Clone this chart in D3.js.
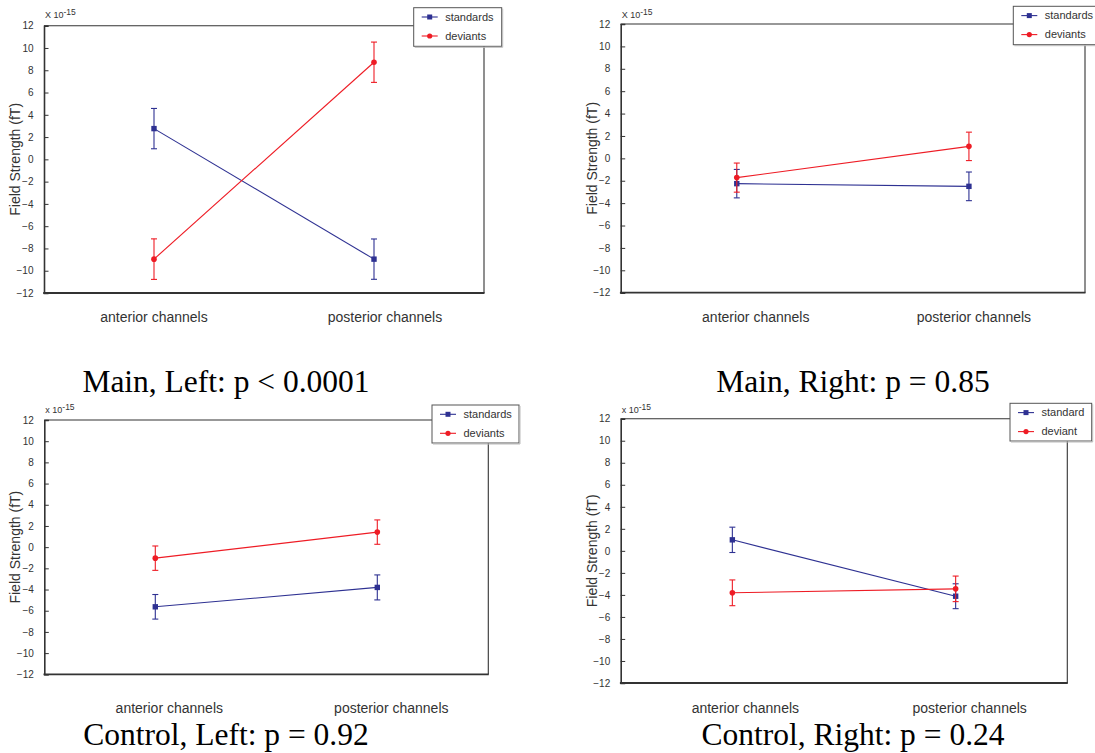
<!DOCTYPE html>
<html>
<head>
<meta charset="utf-8">
<script src="https://cdn.jsdelivr.net/npm/d3@7"></script>
<style>
  body { margin: 0; background: #fff; }
  svg { display: block; }
</style>
</head>
<body>
<svg id="chart" width="1095" height="753"></svg>
<script>
// Mean field strength (x 10^-15 T) with error bars, per channel group
const categories = ["anterior channels", "posterior channels"];
const panelTitles = [
  "Main, Left: p < 0.0001",
  "Main, Right: p = 0.85",
  "Control, Left: p = 0.92",
  "Control, Right: p = 0.24"
];
const standardLabels = ["standards", "standards", "standards", "standard"];
const deviantLabels = ["deviants", "deviants", "deviants", "deviant"];
const standardMeans  = [[2.76, -8.96], [-2.26, -2.5], [-5.63, -3.8], [1.0, -4.12]];
const standardErrors = [[1.81, 1.81], [1.27, 1.28], [1.16, 1.18], [1.15, 1.13]];
const deviantMeans   = [[-8.96, 8.72], [-1.72, 1.07], [-1.04, 1.42], [-3.81, -3.45]];
const deviantErrors  = [[1.82, 1.81], [1.3, 1.27], [1.15, 1.15], [1.17, 1.16]];
const yTicks = [-12, -10, -8, -6, -4, -2, 0, 2, 4, 6, 8, 10, 12];
const exponentPrefix = ["X", "X", "x", "x"];

// Panel geometry: plot frame [x0, y0, x1, y1], legend box, label placement
const layout = [
  { frame: [44, 25.7, 484, 293],      legend: [413.7, 7.7, 88, 38.6],  catShift: [0, 11],  catY: 322, titleX: 226, titleY: 392, expY: 18 },
  { frame: [620.7, 24, 1085, 292.7],  legend: [1013.3, 6.3, 88, 38.4], catShift: [19, 5],  catY: 322, titleX: 853, titleY: 392, expY: 18 },
  { frame: [44.3, 420, 488.3, 674.3], legend: [432, 405, 87, 38],      catShift: [14, 14], catY: 713, titleX: 226, titleY: 745, expY: 413 },
  { frame: [620.7, 418.7, 1067.3, 683], legend: [1010, 403.3, 81.7, 37.7], catShift: [13, 14], catY: 713, titleX: 853, titleY: 745, expY: 413 }
];

const BLUE = "#2e3192";
const RED = "#ee1c25";
const AXIS = "#333";
const SANS = "'Liberation Sans', Arial, Helvetica, sans-serif";
const SERIF = "'Liberation Serif', 'Times New Roman', serif";

const svg = d3.select("#chart");

panelTitles.forEach((title, i) => {
  const L = layout[i];
  const [x0, y0, x1, y1] = L.frame;
  const g = svg.append("g");

  const x = d3.scalePoint().domain(categories).range([x0, x1]).padding(0.5);
  const y = d3.scaleLinear().domain([-12, 12]).range([y1, y0]);

  // Frame: top and right edges
  g.append("line").attr("x1", x0).attr("x2", x1).attr("y1", y0).attr("y2", y0)
    .attr("stroke", AXIS).attr("stroke-width", 1.1);
  g.append("line").attr("x1", x1).attr("x2", x1).attr("y1", y0).attr("y2", y1)
    .attr("stroke", AXIS).attr("stroke-width", 1.1);

  // Left axis with inward ticks
  const yAxis = d3.axisLeft(y).tickValues(yTicks).tickSize(-4.5).tickPadding(10.5)
    .tickFormat(d3.format("d"));
  const ya = g.append("g").attr("transform", `translate(${x0},0)`).call(yAxis);
  ya.select(".domain").attr("stroke", AXIS).attr("stroke-width", 1.6);
  ya.selectAll(".tick line").attr("stroke", AXIS).attr("stroke-width", 1);
  ya.selectAll(".tick text").attr("fill", "#333").style("font-family", SANS).style("font-size", "10px");

  // Bottom edge
  g.append("line").attr("x1", x0 - 0.8).attr("x2", x1 + 0.5).attr("y1", y1).attr("y2", y1)
    .attr("stroke", AXIS).attr("stroke-width", 1.8);

  // Exponent note
  const exp = g.append("text").attr("x", x0 + 1).attr("y", L.expY)
    .attr("fill", "#333").style("font-family", SANS).style("font-size", "9px");
  exp.append("tspan").text(exponentPrefix[i] + " 10");
  exp.append("tspan").attr("dy", -3.5).style("font-size", "8.5px").text("-15");

  // Axis title
  g.append("text")
    .attr("transform", `translate(${x0 - 24},${(y0 + y1) / 2}) rotate(-90)`)
    .attr("text-anchor", "middle")
    .attr("fill", "#333").style("font-family", SANS).style("font-size", "14px")
    .text("Field Strength (fT)");

  // Category labels
  g.selectAll(".cat").data(categories).enter().append("text")
    .attr("x", (d, k) => x(d) + L.catShift[k]).attr("y", L.catY)
    .attr("text-anchor", "middle")
    .attr("fill", "#333").style("font-family", SANS).style("font-size", "14px")
    .text(d => d);

  // Series
  const series = [
    { means: standardMeans[i], errs: standardErrors[i], color: BLUE, marker: "square", label: standardLabels[i] },
    { means: deviantMeans[i],  errs: deviantErrors[i],  color: RED,  marker: "circle", label: deviantLabels[i] }
  ];

  series.forEach(s => {
    const pts = categories.map((c, k) => ({ c, v: s.means[k], e: s.errs[k] }));
    g.append("path").datum(pts)
      .attr("fill", "none").attr("stroke", s.color).attr("stroke-width", 1.1)
      .attr("d", d3.line().x(d => x(d.c)).y(d => y(d.v)));

    const eb = g.selectAll(null).data(pts).enter().append("g");
    eb.append("line")
      .attr("x1", d => x(d.c)).attr("x2", d => x(d.c))
      .attr("y1", d => y(d.v - d.e)).attr("y2", d => y(d.v + d.e))
      .attr("stroke", s.color).attr("stroke-width", 1.1);
    [-1, 1].forEach(sign => {
      eb.append("line")
        .attr("x1", d => x(d.c) - 3).attr("x2", d => x(d.c) + 3)
        .attr("y1", d => y(d.v + sign * d.e)).attr("y2", d => y(d.v + sign * d.e))
        .attr("stroke", s.color).attr("stroke-width", 1.1);
    });
    if (s.marker === "square") {
      eb.append("rect")
        .attr("x", d => x(d.c) - 2.7).attr("y", d => y(d.v) - 2.7)
        .attr("width", 5.4).attr("height", 5.4).attr("fill", s.color);
    } else {
      eb.append("circle")
        .attr("cx", d => x(d.c)).attr("cy", d => y(d.v)).attr("r", 2.8).attr("fill", s.color);
    }
  });

  // Legend
  const [lx, ly, lw, lh] = L.legend;
  const lg = g.append("g");
  lg.append("rect").attr("x", lx).attr("y", ly).attr("width", lw).attr("height", lh)
    .attr("fill", "#fff").attr("stroke", "#555").attr("stroke-width", 1);
  lg.append("polyline")
    .attr("points", `${lx + 1},${ly + lh + 1} ${lx + lw + 1},${ly + lh + 1} ${lx + lw + 1},${ly + 1}`)
    .attr("fill", "none").attr("stroke", "#bbb").attr("stroke-width", 1);
  series.forEach((s, k) => {
    const cy = ly + 9.3 + k * 19;
    lg.append("line").attr("x1", lx + 8).attr("x2", lx + 24).attr("y1", cy).attr("y2", cy)
      .attr("stroke", s.color).attr("stroke-width", 1.1);
    if (s.marker === "square") {
      lg.append("rect").attr("x", lx + 16 - 2.5).attr("y", cy - 2.5).attr("width", 5).attr("height", 5)
        .attr("fill", s.color);
    } else {
      lg.append("circle").attr("cx", lx + 16).attr("cy", cy).attr("r", 2.6).attr("fill", s.color);
    }
    lg.append("text").attr("x", lx + 31.5).attr("y", cy).attr("dy", "0.35em")
      .attr("fill", "#333").style("font-family", SANS).style("font-size", "11px")
      .text(s.label);
  });

  // Panel caption
  g.append("text").attr("x", L.titleX).attr("y", L.titleY)
    .attr("text-anchor", "middle").attr("fill", "#000")
    .style("font-family", SERIF).style("font-size", "31.5px")
    .text(title);
});
</script>
</body>
</html>
